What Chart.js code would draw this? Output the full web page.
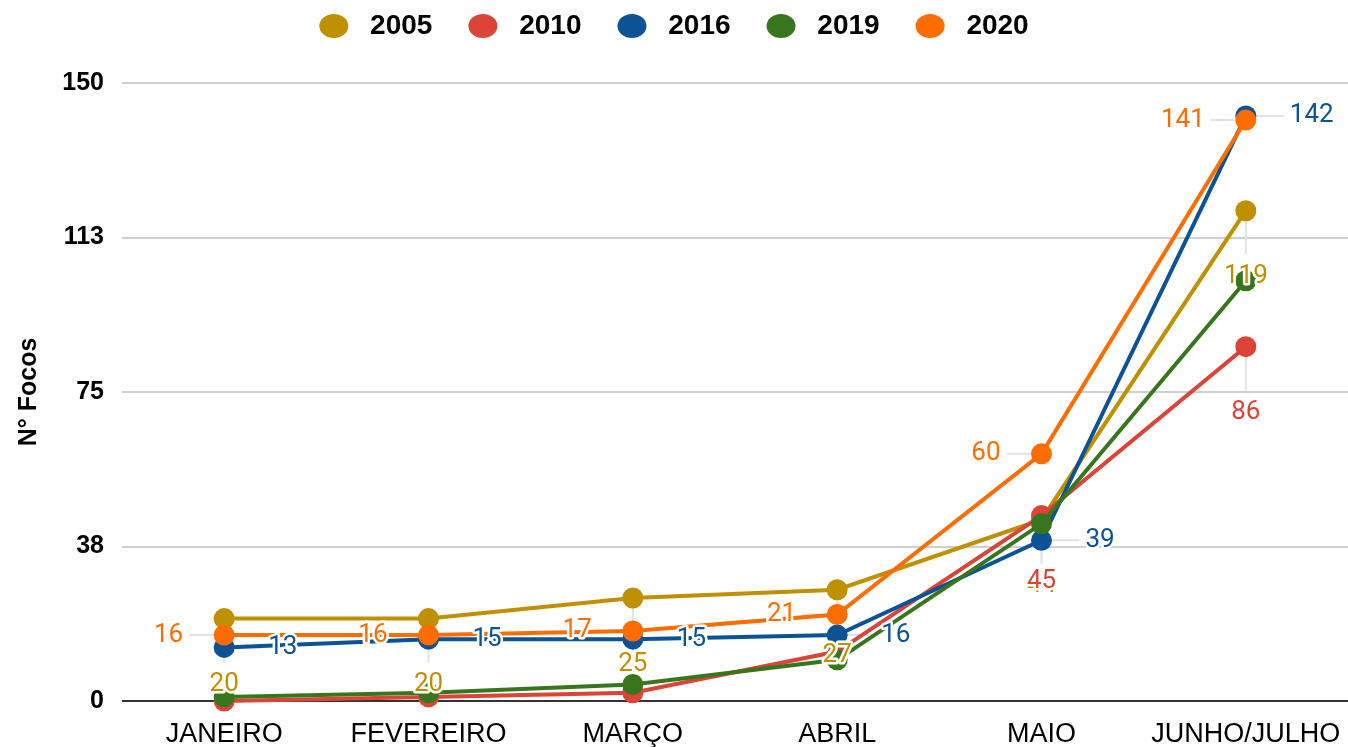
<!DOCTYPE html>
<html>
<head>
<meta charset="utf-8">
<script src="https://cdn.jsdelivr.net/npm/chart.js@4/dist/chart.umd.min.js"></script>
<style>
  html, body { margin: 0; padding: 0; background: #ffffff; overflow: hidden; }
  #wrap { width: 1348px; height: 747px; position: relative; }
  canvas { display: block; }
</style>
</head>
<body>
<div id="wrap"><canvas id="c"></canvas></div>
<script>
// ---- data ----
const categories = ['JANEIRO', 'FEVEREIRO', 'MARÇO', 'ABRIL', 'MAIO', 'JUNHO/JULHO'];
const seriesNames = ['2005', '2010', '2016', '2019', '2020'];
const values2005 = [20, 20, 25, 27, 44, 119];
const values2010 = [0, 1, 2, 12, 45, 86];
const values2016 = [13, 15, 15, 16, 39, 142];
const values2019 = [1, 2, 4, 10, 43, 102];
const values2020 = [16, 16, 17, 21, 60, 141];
const yMin = 0;
const yMax = 150;
const yStep = 37.5;
const yAxisTitle = 'N° Focos';

// ---- styles ----
const seriesColors = ['#bf9000', '#db4437', '#0b5394', '#38761d', '#ff6d01'];
const labelModes = ['below', 'below', 'right', 'none', 'left'];
const allValues = [values2005, values2010, values2016, values2019, values2020];

const datasets = seriesNames.map((name, i) => ({
  label: name,
  data: allValues[i],
  borderColor: seriesColors[i],
  backgroundColor: seriesColors[i],
  pointBackgroundColor: seriesColors[i],
  pointBorderColor: seriesColors[i],
  pointBorderWidth: 0,
  pointRadius: 10.5,
  pointHoverRadius: 10.5,
  borderWidth: 4,
  tension: 0,
  clip: false,
  order: seriesNames.length - i
}));

function labelGeom(chart, dsIndex, i) {
  const mode = labelModes[dsIndex];
  if (mode === 'none') return null;
  const pt = chart.getDatasetMeta(dsIndex).data[i];
  if (!pt) return null;
  let g;
  if (mode === 'below') {
    g = { tx: pt.x, ty: pt.y + 66, align: 'center', x0: pt.x, y0: pt.y, x1: pt.x, y1: pt.y + 44 };
  } else if (mode === 'right') {
    g = { tx: pt.x + 44, ty: pt.y, align: 'left', x0: pt.x, y0: pt.y, x1: pt.x + 38, y1: pt.y };
  } else {
    g = { tx: pt.x - 41, ty: pt.y, align: 'right', x0: pt.x, y0: pt.y, x1: pt.x - 35, y1: pt.y };
  }
  if (g.ty + 10 > chart.chartArea.bottom) return null;
  return g;
}

const dataLabelPlugin = {
  id: 'dataLabelPlugin',
  beforeDatasetsDraw(chart) {
    const ctx = chart.ctx;
    ctx.save();
    ctx.strokeStyle = '#e3e3e3';
    ctx.lineWidth = 2;
    chart.data.datasets.forEach((ds, d) => {
      ds.data.forEach((v, i) => {
        const g = labelGeom(chart, d, i);
        if (!g) return;
        ctx.beginPath();
        ctx.moveTo(g.x0, g.y0);
        ctx.lineTo(g.x1, g.y1);
        ctx.stroke();
      });
    });
    ctx.restore();
  },
  afterDatasetsDraw(chart) {
    const ctx = chart.ctx;
    ctx.save();
    ctx.font = '26px Roboto';
    ctx.textBaseline = 'middle';
    ctx.lineJoin = 'round';
    chart.data.datasets.forEach((ds, d) => {
      ds.data.forEach((v, i) => {
        const g = labelGeom(chart, d, i);
        if (!g) return;
        ctx.textAlign = g.align;
        ctx.strokeStyle = '#ffffff';
        ctx.lineWidth = 5;
        ctx.strokeText(String(v), g.tx, g.ty);
        ctx.fillStyle = seriesColors[d];
        ctx.fillText(String(v), g.tx, g.ty);
      });
    });
    ctx.restore();
  }
};

const legendFitPlugin = {
  id: 'legendFitPlugin',
  beforeInit(chart) {
    const origFit = chart.legend.fit;
    chart.legend.fit = function () {
      origFit.call(this);
      this.height = 83;
    };
  },
  afterLayout(chart) {
    chart.legend.top -= 24;
    chart.legend.bottom -= 24;
  }
};

new Chart(document.getElementById('c'), {
  type: 'line',
  data: { labels: categories, datasets: datasets },
  plugins: [legendFitPlugin, dataLabelPlugin],
  options: {
    responsive: true,
    maintainAspectRatio: false,
    animation: false,
    events: [],
    layout: { padding: 0, autoPadding: false },
    plugins: {
      tooltip: { enabled: false },
      legend: {
        display: true,
        position: 'top',
        align: 'center',
        labels: {
          usePointStyle: true,
          pointStyle: 'circle',
          pointStyleWidth: 29,
          boxHeight: 17,
          padding: 36,
          color: '#000000',
          font: { family: 'Liberation Sans', size: 28, weight: 'bold' },
          sort: (a, b) => a.datasetIndex - b.datasetIndex,
          generateLabels: (chart) => {
            const items = Chart.defaults.plugins.legend.labels.generateLabels(chart);
            items.forEach((it) => { it.text = ' ' + it.text; });
            return items;
          }
        }
      }
    },
    scales: {
      x: {
        type: 'category',
        offset: true,
        grid: { display: false, drawTicks: true, tickLength: 17 },
        border: { display: false },
        ticks: {
          color: '#000000',
          autoSkip: false,
          maxRotation: 0,
          padding: 0,
          font: { family: 'Liberation Sans', size: 27 }
        },
        afterFit(scale) {
          scale.height = 46;
          scale.paddingLeft = 0;
          scale.paddingRight = 0;
        }
      },
      y: {
        min: yMin,
        max: yMax,
        border: { display: false },
        grid: {
          drawTicks: false,
          lineWidth: 2,
          color: (ctx) => (ctx.tick && ctx.tick.value === 0 ? '#333333' : '#d0d0d0')
        },
        ticks: {
          stepSize: yStep,
          color: '#000000',
          padding: 18,
          font: { family: 'Liberation Sans', size: 25, weight: 'bold' },
          callback: (v) => String(Math.round(v))
        },
        title: {
          display: true,
          text: yAxisTitle,
          color: '#000000',
          padding: { top: 14, bottom: 0 },
          font: { family: 'Liberation Sans', size: 25, weight: 'bold' }
        },
        afterFit(scale) { scale.width = 122; }
      }
    }
  }
});
</script>
</body>
</html>
